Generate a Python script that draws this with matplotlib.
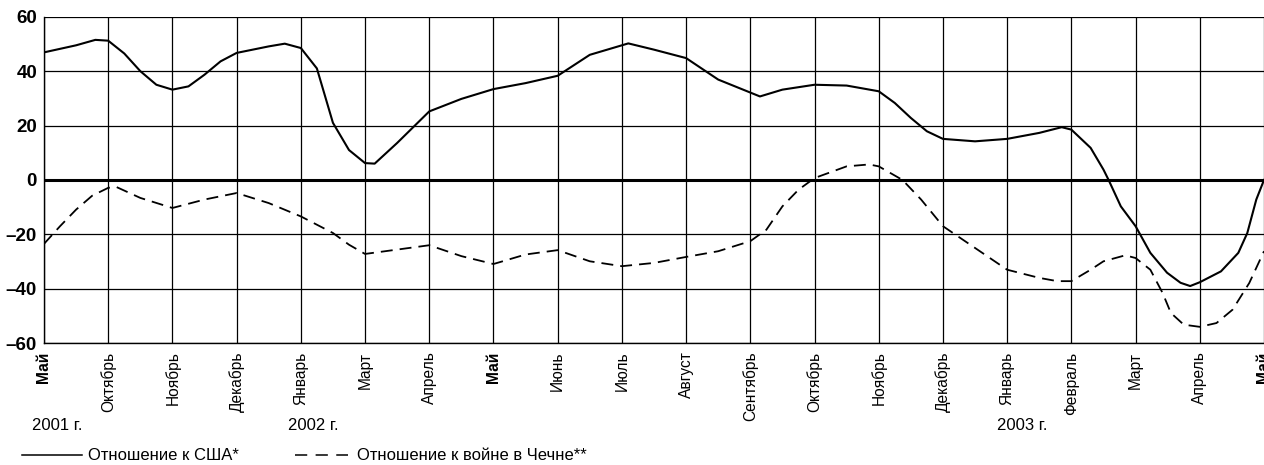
import matplotlib
matplotlib.use("Agg")
import matplotlib.pyplot as plt
from matplotlib.lines import Line2D

plt.rcParams['font.family'] = ['Liberation Sans Narrow', 'Liberation Sans', 'DejaVu Sans']

months = ["Май", "Октябрь", "Ноябрь", "Декабрь", "Январь", "Март", "Апрель", "Май",
          "Июнь", "Июль", "Август", "Сентябрь", "Октябрь", "Ноябрь", "Декабрь",
          "Январь", "Февраль", "Март", "Апрель", "Май"]
bold_months = [0, 7, 19]
years = ["2001 г.", "2002 г.", "2003 г."]
yticks = [-60, -40, -20, 0, 20, 40, 60]

# attitude to the USA (position in months, value)
usa_x = [0, 0.5, 0.8, 1, 1.25, 1.5, 1.75, 2, 2.25, 2.5, 2.75, 3, 3.5, 3.75, 4, 4.25, 4.5, 4.75,
         5, 5.15, 5.5, 6, 6.5, 7, 7.5, 8, 8.5, 9.1, 9.5, 10, 10.5, 11.15, 11.5, 12, 12.5, 13,
         13.25, 13.5, 13.75, 14, 14.5, 15, 15.5, 15.85, 16, 16.3, 16.5, 16.58, 16.77, 17,
         17.23, 17.49, 17.7, 17.85, 18, 18.33, 18.6, 18.74, 18.88, 19]
usa_y = [46.9, 49.5, 51.5, 51.2, 46.5, 40, 35, 33.2, 34.4, 38.7, 43.6, 46.7, 49.1, 50.1, 48.5, 41, 21, 11,
         6.2, 6, 13.6, 25.2, 29.8, 33.4, 35.6, 38.3, 46, 50.2, 47.9, 44.8, 36.9, 30.7, 33.2, 35, 34.7, 32.6,
         28.3, 22.8, 17.9, 15.1, 14.2, 15.1, 17.3, 19.4, 18.5, 11.8, 3.8, 0, -9.7, -17,
         -26.8, -34.1, -37.8, -39, -37.6, -33.6, -26.8, -19.5, -7.2, 0]

# attitude to the war in Chechnya
chech_x = [0, 0.25, 0.5, 0.75, 1, 1.12, 1.5, 2, 2.5, 3, 3.5, 4, 4.5, 4.75, 5, 5.5, 6, 6.5, 7, 7.5,
           8, 8.5, 9, 9.5, 10, 10.5, 11, 11.25, 11.5, 11.75, 12, 12.5, 12.85, 13, 13.37, 13.66,
           14, 14.5, 15, 15.5, 15.78, 16, 16.3, 16.5, 16.84, 17, 17.23, 17.42, 17.55, 17.75, 18,
           18.26, 18.51, 18.77, 19]
chech_y = [-23.5, -17, -10.9, -5.8, -2.9, -2.5, -6.6, -10.3, -7.2, -4.8, -8.5, -13.4, -19.5, -23.8, -27.2,
           -25.6, -24, -28, -30.9, -27.4, -25.8, -29.9, -31.7, -30.5, -28.3, -26.2, -22.5, -18.3, -9.7,
           -3.6, 0.7, 5, 5.7, 5, 0, -7.2, -17, -25, -33, -36, -37.2, -37.2, -33, -29.9, -27.7, -28.7,
           -33, -41.5, -48.9, -53.2, -54, -52.6, -47.7, -37.9, -26.2]

fig = plt.figure(figsize=(12.64, 4.65), dpi=100)
ax = fig.add_axes([0.0348, 0.262, 0.9652, 0.702])

ax.plot(usa_x, usa_y, color="black", lw=1.5, solid_joinstyle="round")
ax.plot(chech_x, chech_y, color="black", lw=1.3, dashes=(6.6, 3.9))
ax.axhline(0, color="black", lw=2.2)

ax.set_xlim(0, len(months) - 1)
ax.set_ylim(-60, 60)
ax.set_xticks(range(len(months)))
ax.set_xticklabels(months, rotation=90, va="top", ha="center", fontsize=11.2)
for i in bold_months:
    ax.get_xticklabels()[i].set_fontweight("bold")
ax.set_yticks(yticks)
ax.set_yticklabels([str(v).replace("-", "\u2013") for v in yticks], fontsize=13.5, fontweight="bold")
ax.tick_params(axis="both", length=0)
ax.tick_params(axis="x", pad=6)
ax.tick_params(axis="y", pad=5)
ax.grid(True, color="black", lw=0.9)
ax.set_axisbelow(True)
for side in ["top", "right"]:
    ax.spines[side].set_visible(False)
for side in ["left", "bottom"]:
    ax.spines[side].set_linewidth(1.0)

# year captions
fig.text(32 / 1264, 1 - 425 / 465, years[0], fontsize=12, va="center", ha="left")
fig.text(288 / 1264, 1 - 425 / 465, years[1], fontsize=12, va="center", ha="left")
fig.text(997 / 1264, 1 - 425 / 465, years[2], fontsize=12, va="center", ha="left")

# legend
ly = 1 - 455 / 465
fig.add_artist(Line2D([22 / 1264, 82 / 1264], [ly, ly], color="black", lw=1.1))
fig.text(88 / 1264, ly, "Отношение к США*", fontsize=12, va="center", ha="left")
fig.add_artist(Line2D([295 / 1264, 348 / 1264], [ly, ly], color="black", lw=1.1, dashes=(8, 5.5)))
fig.text(357 / 1264, ly, "Отношение к войне в Чечне**", fontsize=12, va="center", ha="left")

fig.savefig("out.png", dpi=100)
